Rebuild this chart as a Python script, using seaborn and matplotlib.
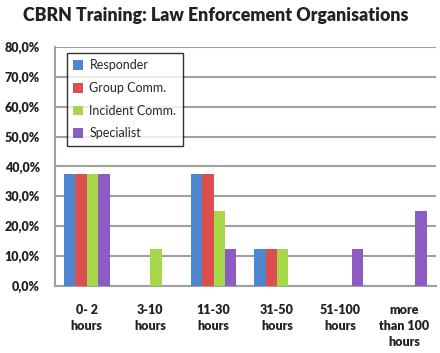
import matplotlib
matplotlib.use("Agg")
import matplotlib.pyplot as plt
import seaborn as sns
import pandas as pd
import numpy as np
from matplotlib.ticker import FuncFormatter, FixedLocator

categories = ["0- 2\nhours", "3-10\nhours", "11-30\nhours", "31-50\nhours", "51-100\nhours", "more\nthan 100\nhours"]
series = ["Responder", "Group Comm.", "Incident Comm.", "Specialist"]
responder = [37.5, 0, 37.5, 12.5, 0, 0]
group_comm = [37.5, 0, 37.5, 12.5, 0, 0]
incident_comm = [37.5, 12.5, 25.0, 12.5, 0, 0]
specialist = [37.5, 0, 12.5, 0, 12.5, 25.0]
yticks = [0, 10, 20, 30, 40, 50, 60, 70, 80]
colors = ["#4f86d0", "#dc4f4f", "#a6d84a", "#8a5cc4"]

rows = []
for s, vals in zip(series, [responder, group_comm, incident_comm, specialist]):
    for c, v in zip(categories, vals):
        rows.append({"cat": c, "series": s, "value": v})
df = pd.DataFrame(rows)

sns.set_style("white")
plt.rcParams["font.family"] = ["Lato", "DejaVu Sans"]
fig = plt.figure(figsize=(4.4, 3.53), dpi=100)
ax = fig.add_axes([0.125, 0.19, 0.865, 0.677])

sns.barplot(data=df, x="cat", y="value", hue="series", palette=colors,
            order=categories, hue_order=series, width=0.72, ax=ax,
            saturation=1, linewidth=0, zorder=3)

ax.set_ylim(0, 80)
ax.set_xlim(-0.5, 5.5)
ax.yaxis.set_major_locator(FixedLocator(yticks))
ax.yaxis.set_major_formatter(FuncFormatter(lambda v, p: f"{v:.1f}%".replace(".", ",")))
ax.grid(axis="y", color="#a0a0a0", linewidth=1.5, zorder=0)
ax.set_axisbelow(True)
for s in ["top", "right"]:
    ax.spines[s].set_visible(False)
for s in ["left", "bottom"]:
    ax.spines[s].set_color("#a0a0a0")
    ax.spines[s].set_linewidth(1.5)
ax.set_xlabel("")
ax.set_ylabel("")

ax.set_xticks(np.arange(6))
ax.set_xticklabels(categories, fontsize=9, fontweight="heavy", color="#222222", linespacing=1.4, va="top")
ax.tick_params(axis="x", which="major", length=0, pad=13)
ax.set_xticks(np.arange(-0.5, 6.0, 1.0), minor=True)
ax.tick_params(axis="x", which="minor", length=5, width=1.5, color="#a0a0a0", direction="out")
ax.tick_params(axis="y", length=5, width=1.5, color="#a0a0a0", direction="out", labelsize=9, pad=6)
for t in ax.get_yticklabels():
    t.set_fontweight("heavy")
    t.set_color("#222222")

leg = ax.legend(loc="upper left", bbox_to_anchor=(0.015, 1.0), frameon=True, fancybox=False,
                edgecolor="black", fontsize=9, handlelength=0.8, handleheight=0.8,
                handletextpad=0.5, labelspacing=0.85, borderpad=0.5)
leg.get_frame().set_linewidth(1.0)
leg.set_zorder(5)

fig.text(0.49, 0.955, "CBRN Training: Law Enforcement Organisations", ha="center", va="center",
         fontsize=12.8, fontweight="heavy", color="#222222")

fig.savefig("out.png", dpi=100)
